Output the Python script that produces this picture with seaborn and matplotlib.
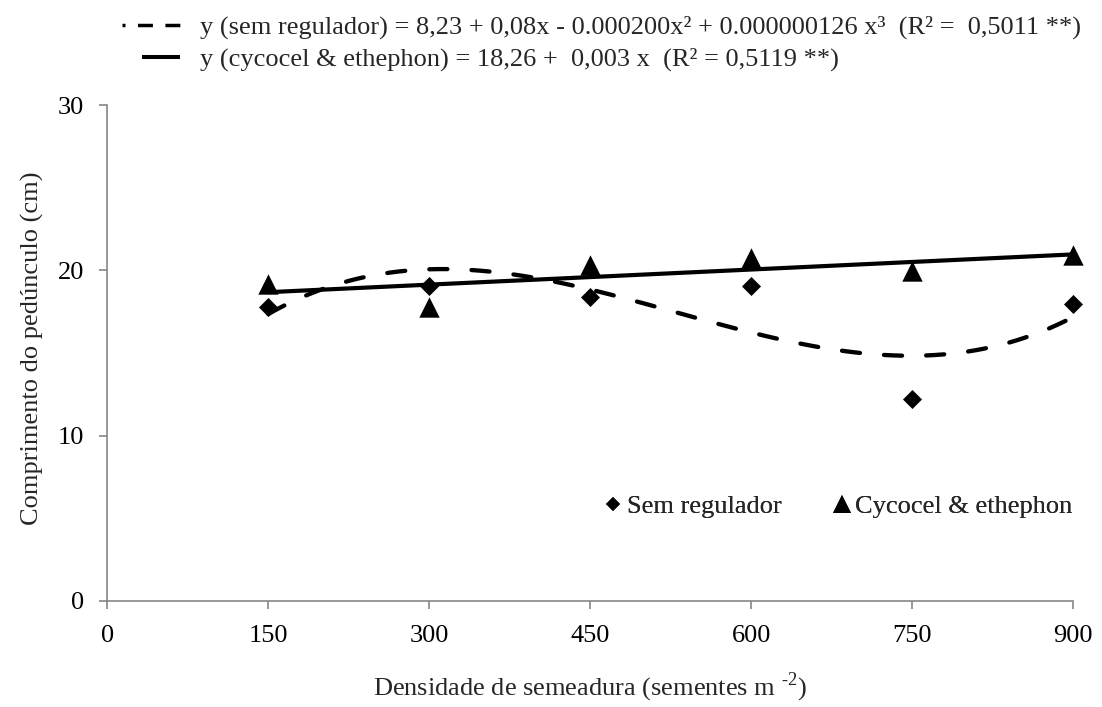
import numpy as np
import pandas as pd
import matplotlib
matplotlib.use("Agg")
import matplotlib.pyplot as plt
from matplotlib.lines import Line2D
from matplotlib.legend_handler import HandlerLine2D
import seaborn as sns

# ---- data ----
densidade = [150, 300, 450, 600, 750, 900]
sem_regulador = [17.80, 19.08, 18.41, 19.08, 12.21, 17.95]
cycocel_ethephon = [19.15, 17.80, 20.30, 20.78, 19.98, 20.95]
x_ticks = [0, 150, 300, 450, 600, 750, 900]
y_ticks = [0, 10, 20, 30]
eq_sem = "y (sem regulador) = 8,23 + 0,08x - 0.000200x² + 0.000000126 x³  (R² =  0,5011 **)"
eq_cyc = "y (cycocel & ethephon) = 18,26 +  0,003 x  (R² = 0,5119 **)"
serie_labels = ["Sem regulador", "Cycocel & ethephon"]

df = pd.DataFrame({"x": densidade, "sem": sem_regulador, "cyc": cycocel_ethephon})

sns.set_theme(style="white")
plt.rcParams["font.family"] = ["Liberation Serif", "DejaVu Serif"]
plt.rcParams["mathtext.fontset"] = "custom"
plt.rcParams["mathtext.rm"] = "Liberation Serif"

FS = 19
fig = plt.figure(figsize=(11.02, 7.07), dpi=100)
ax = fig.add_axes([0.0974, 0.1503, 0.8766, 0.7008])

sns.regplot(data=df, x="x", y="sem", order=3, ci=None, marker="D", color="black",
            scatter_kws=dict(s=94, linewidths=0, zorder=3, alpha=1, clip_on=False),
            line_kws=dict(lw=3.1, ls=(0, (4.2, 5.6)), dash_capstyle="round", zorder=2,
                          color="black"),
            ax=ax)
sns.regplot(data=df, x="x", y="cyc", order=1, ci=None, marker="^", color="black",
            scatter_kws=dict(s=215, linewidths=0, zorder=3, alpha=1, clip_on=False),
            line_kws=dict(lw=3.0, ls="-", zorder=2, color="black"),
            ax=ax)

ax.set_xlim(0, 900)
ax.set_ylim(0, 30)
ax.set_xticks(x_ticks)
ax.set_yticks(y_ticks)
ax.set_xlabel("Densidade de semeadura (sementes m $^{\\mathregular{\u20102}}$)", fontsize=FS,
              labelpad=17)
ax.set_ylabel("Comprimento do pedúnculo (cm)", fontsize=FS, labelpad=10)
ax.yaxis.label.set_y(0.51)

for side in ["top", "right"]:
    ax.spines[side].set_visible(False)
for side in ["left", "bottom"]:
    ax.spines[side].set_color("#868686")
    ax.spines[side].set_linewidth(1.2)
ax.tick_params(axis="both", which="major", direction="out", length=5.5, width=1.2,
               color="#868686", labelcolor="black", labelsize=FS)
ax.tick_params(axis="x", pad=12, bottom=True)
ax.tick_params(axis="y", pad=11, left=True)
ax.grid(False)

# inner legend (markers only)
mk_handles = [Line2D([], [], marker="D", ls="none", color="black", ms=7.2, mew=0),
              Line2D([], [], marker="^", ls="none", color="black", ms=12.5, mew=0)]
leg1 = ax.legend(mk_handles, serie_labels, loc="center left", bbox_to_anchor=(0.5157, 0.19),
                 ncol=2, frameon=False, fontsize=FS, handlelength=0.6, handletextpad=0.2,
                 columnspacing=2.0, borderpad=0, borderaxespad=0)
ax.add_artist(leg1)


class RightLine(HandlerLine2D):
    def get_xdata(self, legend, xdescent, ydescent, width, height, fontsize):
        xd = np.array([-xdescent + 0.35 * width, width - xdescent])
        return xd, xd


ln_handles = [Line2D([], [], color="black", lw=2.5, ls=(3.44, (4.3, 3.6)), dash_capstyle="butt"),
              Line2D([], [], color="black", lw=2.9, ls="-", solid_capstyle="butt")]
fig.legend(ln_handles, [eq_sem, eq_cyc], loc="upper left",
           bbox_to_anchor=(122 / 1102, 0.978), bbox_transform=fig.transFigure,
           frameon=False, fontsize=FS, handlelength=2.2, handletextpad=0.75,
           labelspacing=0.3, borderpad=0, borderaxespad=0,
           handler_map={ln_handles[1]: RightLine()})

fig.savefig("out.png", dpi=100)
